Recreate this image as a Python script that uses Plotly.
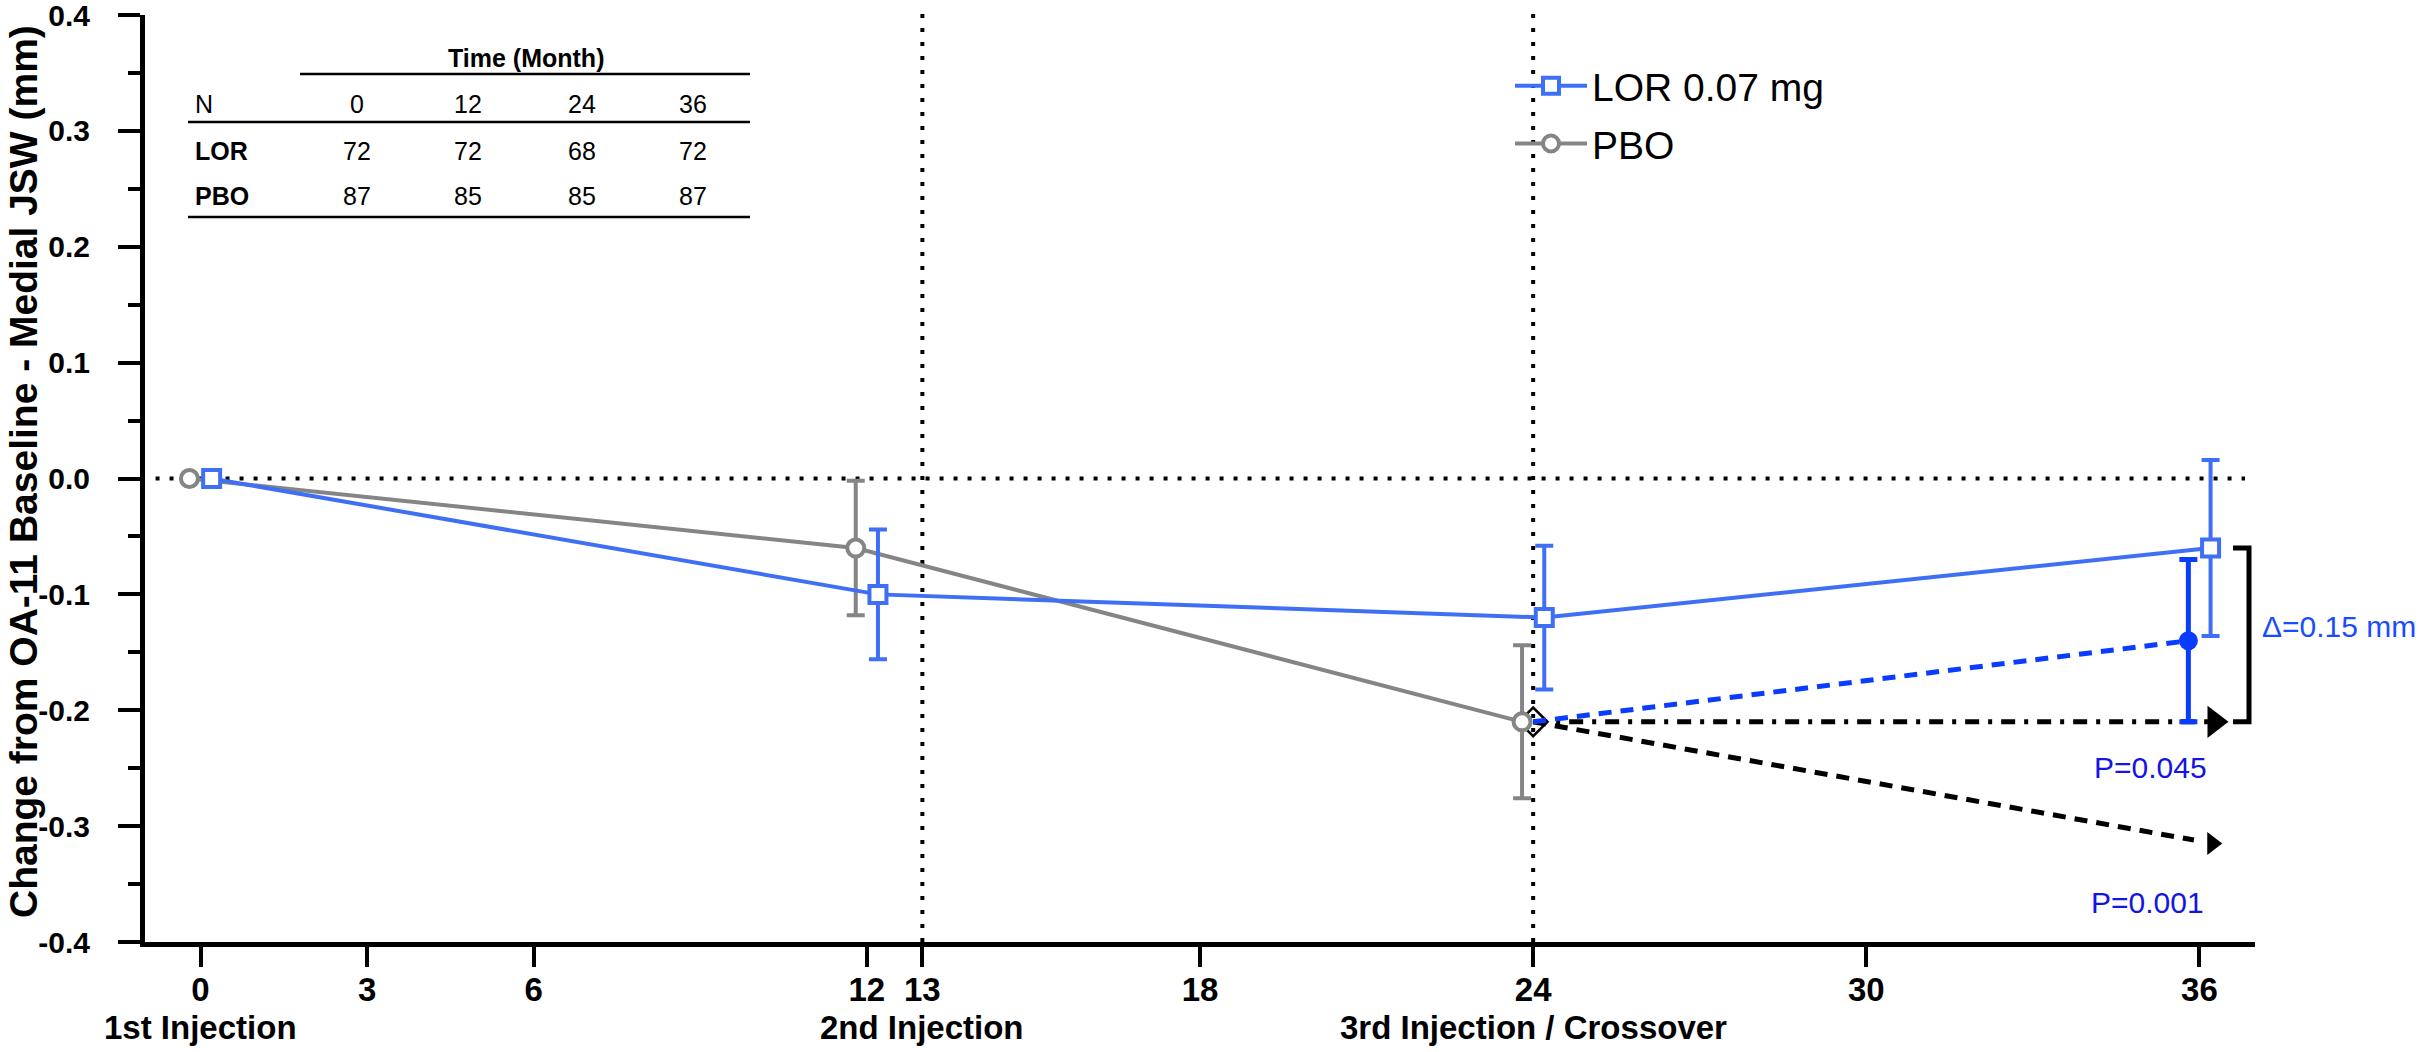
import plotly.graph_objects as go

# ---------------- data ----------------
months = [0, 12, 24, 36]
lor_mean = [0.0, -0.10, -0.12, -0.06]
lor_err = [0.0, 0.056, 0.062, 0.076]
pbo_months = [0, 12, 24]
pbo_mean = [0.0, -0.06, -0.21]
pbo_err = [0.0, 0.058, 0.066]
cross_months = [24, 36]
cross_mean = [-0.21, -0.14]
cross_err = [0.0, 0.07]
flat_proj = [-0.21, -0.21]
decline_proj = [-0.21, -0.315]

tick_vals = [0, 3, 6, 12, 13, 18, 24, 30, 36]
y_ticks = [-0.4, -0.3, -0.2, -0.1, 0.0, 0.1, 0.2, 0.3, 0.4]
y_minor = [-0.35, -0.25, -0.15, -0.05, 0.05, 0.15, 0.25, 0.35]
event_months = [0, 13, 24]
event_labels = ["1st Injection", "2nd Injection", "3rd Injection / Crossover"]
ref_months = [13, 24]

table_cols = ["0", "12", "24", "36"]
table_rows = ["LOR", "PBO"]
table_n = [[72, 72, 68, 72], [87, 85, 85, 87]]

delta_text = "Δ=0.15 mm"
p_texts = ["P=0.045", "P=0.001"]

# ---------------- layout geometry (page pixel coords) ----------------
W, H = 2420, 1052
L, R, T, B = 145, 2255, 15, 942
XMIN, XMAX = -1, 37
YMIN, YMAX = -0.4, 0.4
DODGE = 0.2


def xd(px):
    return XMIN + (px - L) / (R - L) * (XMAX - XMIN)


def yd(py):
    return YMAX - (py - T) / (B - T) * (YMAX - YMIN)


def xp(px):
    return (px - L) / (R - L)


def yp(py):
    return (B - py) / (B - T)


FONT = "Liberation Sans, Arial, sans-serif"
LOR_C = "#3F6FF4"
PBO_C = "#858585"
CROSS_C = "#0A3CFF"
TXT_BLUE = "#1414E6"

fig = go.Figure()

# black start marker under the PBO circle at crossover
fig.add_trace(go.Scatter(
    x=[cross_months[0]], y=[cross_mean[0]], mode="markers",
    marker=dict(symbol="diamond-open", size=22, color="black", line=dict(width=2.5, color="black")),
    showlegend=False, hoverinfo="skip"))

# projection lines
fig.add_trace(go.Scatter(
    x=[cross_months[0], cross_months[1] + 0.25], y=flat_proj, mode="lines",
    line=dict(color="black", width=5, dash="14px,9px,4px,9px"),
    showlegend=False))
fig.add_trace(go.Scatter(
    x=[cross_months[1] + 0.27], y=[flat_proj[1]], mode="markers",
    marker=dict(symbol="triangle-right", size=28, color="black"),
    showlegend=False))
fig.add_trace(go.Scatter(
    x=[cross_months[0], cross_months[1] - 0.1], y=[decline_proj[0], decline_proj[1] + 0.003], mode="lines",
    line=dict(color="black", width=5, dash="13px,9px"),
    showlegend=False))
fig.add_trace(go.Scatter(
    x=[cross_months[1] + 0.23], y=[decline_proj[1]], mode="markers",
    marker=dict(symbol="triangle-right", size=20, color="black"),
    showlegend=False))

# crossover (PBO -> LOR)
fig.add_trace(go.Scatter(
    x=[cross_months[0], cross_months[1] - DODGE], y=cross_mean, mode="lines",
    line=dict(color=CROSS_C, width=5, dash="13px,9px"), showlegend=False))
fig.add_trace(go.Scatter(
    x=[cross_months[1] - DODGE], y=[cross_mean[1]], mode="markers",
    marker=dict(symbol="circle", size=19, color=CROSS_C),
    error_y=dict(type="data", array=[cross_err[1]], color=CROSS_C, thickness=5, width=9),
    showlegend=False))

# PBO
fig.add_trace(go.Scatter(
    x=[m - DODGE for m in pbo_months], y=pbo_mean, mode="lines+markers", name="PBO",
    line=dict(color=PBO_C, width=4),
    marker=dict(symbol="circle", size=17, color="white", line=dict(color=PBO_C, width=4)),
    error_y=dict(type="data", array=pbo_err, color=PBO_C, thickness=4, width=9),
    legendgroup="b", legendrank=2))

# LOR
fig.add_trace(go.Scatter(
    x=[m + DODGE for m in months], y=lor_mean, mode="lines+markers", name="LOR 0.07 mg",
    line=dict(color=LOR_C, width=4),
    marker=dict(symbol="square", size=17, color="white", line=dict(color=LOR_C, width=4)),
    error_y=dict(type="data", array=lor_err, color=LOR_C, thickness=4, width=9),
    legendgroup="a", legendrank=1))

shapes = []
dot = dict(color="black", width=4, dash="4px,10px")
shapes.append(dict(type="line", xref="paper", yref="y", x0=0.005, x1=xp(2245), y0=0, y1=0, line=dot, layer="below"))
for m in ref_months:
    shapes.append(dict(type="line", xref="x", yref="paper", x0=m, x1=m, y0=0, y1=1.01, line=dot, layer="below"))

# delta bracket
shapes.append(dict(type="path", xref="x", yref="y",
                   path=f"M {xd(2233)},{lor_mean[3]} L {xd(2249)},{lor_mean[3]} L {xd(2249)},{flat_proj[1]} L {xd(2233)},{flat_proj[1]}",
                   line=dict(color="black", width=5)))

annotations = []


def txt(text, x, y, size, xanchor="center", color="black", xref="paper", yref="paper", **kw):
    annotations.append(dict(text=text, xref=xref, yref=yref, x=x, y=y, xanchor=xanchor, yanchor="middle",
                            showarrow=False, font=dict(size=size, family=FONT, color=color), **kw))


# table
tline = dict(color="black", width=2.5)
shapes.append(dict(type="line", xref="paper", yref="paper", x0=xp(300), x1=xp(750), y0=yp(74), y1=yp(74), line=tline))
for py in (122, 217):
    shapes.append(dict(type="line", xref="paper", yref="paper", x0=xp(188), x1=xp(750), y0=yp(py), y1=yp(py), line=tline))
txt("<b>Time (Month)</b>", xp(526), yp(58), 25)
txt("N", xp(193), yp(104), 25, xanchor="left")
col_px = [357, 468, 582, 693]
row_py = [151, 196]
for c, cx in zip(table_cols, col_px):
    txt(c, xp(cx), yp(104), 25)
for r, ry, vals in zip(table_rows, row_py, table_n):
    txt(f"<b>{r}</b>", xp(193), yp(ry), 25, xanchor="left")
    for v, cx in zip(vals, col_px):
        txt(str(v), xp(cx), yp(ry), 25)

# event labels under the axis
for m, lab in zip(event_months, event_labels):
    txt(f"<b>{lab}</b>", m, yp(1027), 33, xref="x")

# y title
txt("<b>Change from OA-11 Baseline - Medial JSW (mm)</b>", xp(24), yp(472), 39, textangle=-90)

# stats text
txt(delta_text, xp(2260), yd(626), 30, xanchor="left", color="#1A4CFF", yref="y")
txt(p_texts[0], xp(2150), yd(767), 30, color=TXT_BLUE, yref="y")
txt(p_texts[1], xp(2147), yd(902), 30, color=TXT_BLUE, yref="y")

fig.update_layout(
    width=W, height=H,
    margin=dict(l=L, r=W - R, t=T, b=H - B, pad=0, autoexpand=False),
    plot_bgcolor="white", paper_bgcolor="white",
    font=dict(family=FONT, color="black"),
    shapes=shapes, annotations=annotations,
    legend=dict(x=xp(1510), y=yp(54), xanchor="left", yanchor="top",
                bgcolor="rgba(0,0,0,0)", font=dict(size=39, family=FONT, color="black"),
                tracegroupgap=4, itemwidth=72),
    xaxis=dict(range=[XMIN, XMAX], tickvals=tick_vals, ticktext=[str(v) for v in tick_vals],
               showline=True, linecolor="black", linewidth=5, ticks="outside", ticklen=20,
               tickwidth=4, tickcolor="black", showgrid=False, zeroline=False, automargin=False,
               ticklabelstandoff=-6,
               tickfont=dict(size=33, family=FONT, weight="bold", color="black")),
    yaxis=dict(range=[YMIN, YMAX], tickvals=y_ticks, ticktext=[f"{v:.1f}" for v in y_ticks],
               showline=True, linecolor="black", linewidth=5, ticks="outside", ticklen=22,
               tickwidth=4, tickcolor="black", showgrid=False, zeroline=False, automargin=False,
               ticklabelstandoff=22, ticklabeloverflow="allow",
               tickfont=dict(size=30, family=FONT, weight="bold", color="black"),
               minor=dict(tickvals=y_minor, ticks="outside", ticklen=12, tickwidth=4, tickcolor="black",
                          showgrid=False)),
)

# remove the default 8px page margin so the figure fills the window exactly
fig.write_html("out.html", config={"displayModeBar": False},
               post_script="document.body.style.margin='0px';")
